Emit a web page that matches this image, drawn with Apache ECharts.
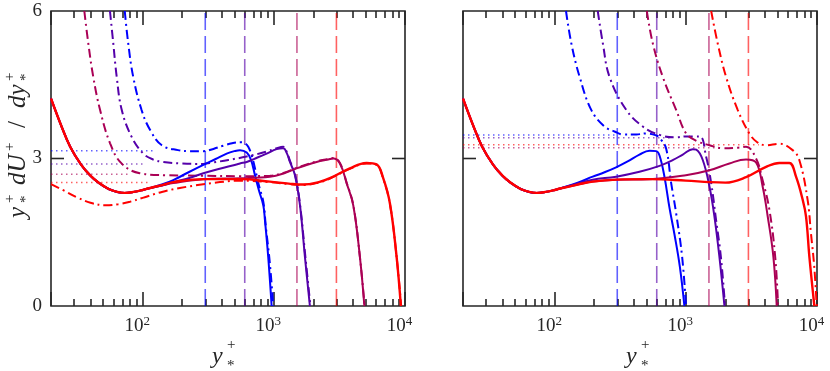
<!DOCTYPE html>
<html><head><meta charset="utf-8">
<script src="https://cdn.jsdelivr.net/npm/echarts@6/dist/echarts.min.js"></script>
<style>html,body{margin:0;padding:0;background:#fff}#c{width:830px;height:371px}</style>
</head><body><div id="c"></div>
<script>
// ---------- axis / tick data ----------
const xMin = 20, xMax = 10000, yMin = 0, yMax = 6;
const minorPerDecade = 9;
const yTickLabels = [0, 3, 6];
const yInnerTicks = [3];
const seriesColors = ['#0000ff', '#5500aa', '#aa0055', '#ff0000'];
const refColors = ['rgba(0,0,255,0.62)', 'rgba(85,0,170,0.62)', 'rgba(170,0,85,0.62)', 'rgba(255,0,0,0.62)'];
const verticalRefX = [300, 600, 1500, 3000];

// ---------- shared near-wall part of the solid curves ----------
const wallPart = [[20,4.22],[24,3.66],[28,3.24],[34,2.87],[40,2.65],[46,2.51],[55,2.38],[64,2.32],[73,2.30],[85,2.32],[100,2.36],[110,2.39]];

// ---------- left panel ----------
const aBlueSolid = wallPart.concat([[140,2.47],[171,2.56],[220,2.71],[290,2.87],[360,2.99],[437,3.10],[500,3.15],[552,3.17],[621,3.12],[670,2.97],[718,2.66],[770,2.35],[831,2.05],[855,1.75],[906,1.0],[962,0]]);
const aBlueDash = [[73,6.0],[77.6,5.34],[84.7,4.66],[98,3.99],[114,3.58],[140,3.27],[186,3.17],[230,3.15],[290,3.15],[350,3.20],[411,3.26],[480,3.31],[560,3.33],[600,3.31],[638,3.24],[680,3.05],[718,2.80],[770,2.45],[831,2.12],[870,1.6],[930,0.9],[990,0]];
const aPurpleSolid = wallPart.concat([[140,2.45],[171,2.52],[230,2.61],[290,2.70],[400,2.80],[552,2.90],[621,2.93],[750,3.02],[881,3.10],[1050,3.19],[1180,3.21],[1260,3.10],[1327,2.93],[1449,2.66],[1582,2.05],[1726,1.0],[1883,0]]);
const aPurpleDash = [[56.3,6.0],[59.7,5.34],[63.4,4.66],[69.2,3.99],[82.4,3.44],[101,3.10],[120,2.98],[143,2.93],[192,2.90],[290,2.89],[345,2.92],[450,2.97],[621,3.04],[881,3.14],[1050,3.21],[1180,3.24],[1260,3.12],[1327,2.95],[1449,2.68],[1582,2.07],[1740,1.0],[1900,0]];
const aMagentaSolid = wallPart.concat([[140,2.45],[171,2.50],[290,2.58],[552,2.60],[933,2.63],[1200,2.70],[1492,2.80],[2118,2.93],[2600,2.98],[2837,3.00],[3190,2.90],[3587,2.50],[4030,2.05],[4530,1.0],[4900,0]]);
const aMagentaDash = [[35.9,6.0],[38.5,5.34],[42,4.66],[47.3,3.99],[56.4,3.31],[69,2.90],[95,2.70],[150,2.66],[290,2.65],[552,2.64],[933,2.65],[1200,2.71],[1492,2.81],[2118,2.94],[2600,2.99],[2837,3.01],[3190,2.91],[3587,2.51],[4030,2.06],[4530,1.0],[4920,0]];
const aRedSolid = wallPart.concat([[140,2.46],[171,2.52],[290,2.58],[552,2.58],[933,2.53],[1300,2.49],[1675,2.47],[2200,2.52],[2677,2.60],[3800,2.80],[5090,2.91],[6070,2.88],[6820,2.60],[7670,2.09],[8630,1.0],[9300,0]]);
const aRedDash = [[20,2.48],[25,2.35],[31,2.22],[40,2.10],[52,2.05],[65,2.07],[80,2.12],[100,2.20],[140,2.32],[192,2.40],[280,2.47],[388,2.52],[552,2.55],[933,2.52],[1300,2.48],[1675,2.46],[2200,2.51],[2677,2.59],[3800,2.79],[5090,2.90],[6070,2.87],[6820,2.59],[7670,2.08],[8630,1.0],[9350,0]];
const aLogLawLevels = [3.16, 2.89, 2.68, 2.51];
const aLogLawEnd = [120, 100, 80, 115];

// ---------- right panel ----------
const bBlueSolid = wallPart.concat([[150,2.51],[195,2.63],[240,2.72],[294,2.82],[360,2.94],[443,3.08],[528,3.16],[594,3.15],[630,3.06],[687,2.63],[750,2.0],[820,1.45],[900,0.8],[975,0]]);
const bBlueDash = [[122,6.0],[134,5.34],[155,4.66],[190,3.99],[240,3.65],[286,3.55],[331,3.49],[420,3.49],[499,3.51],[594,3.47],[640,3.40],[708,3.20],[773,2.50],[843,1.89],[937,1.0],[1003,0]];
const bPurpleSolid = wallPart.concat([[150,2.49],[195,2.57],[294,2.63],[443,2.73],[630,2.85],[800,2.97],[948,3.08],[1130,3.19],[1200,3.18],[1346,2.97],[1514,2.43],[1652,1.82],[1803,1.0],[1970,0]]);
const bPurpleDash = [[213,6.0],[233,5.34],[262,4.66],[351,3.99],[470,3.65],[630,3.48],[843,3.43],[1000,3.45],[1270,3.45],[1426,3.04],[1560,2.50],[1700,1.75],[1850,1.0],[1990,0]];
const bMagentaSolid = wallPart.concat([[150,2.47],[195,2.53],[294,2.57],[528,2.58],[1000,2.66],[1514,2.76],[2149,2.90],[2877,2.98],[3430,2.92],[3850,2.43],[4210,1.82],[4650,1.0],[4930,0]]);
const bMagentaDash = [[504,6.0],[560,5.34],[667,4.66],[843,3.99],[1005,3.51],[1200,3.36],[1514,3.27],[1910,3.21],[2500,3.22],[2877,3.24],[3430,3.00],[3850,2.56],[4340,1.95],[4800,1.0],[5050,0]];
const bRedSolid = wallPart.concat([[150,2.47],[195,2.53],[294,2.57],[528,2.58],[1000,2.55],[1514,2.52],[2000,2.51],[2877,2.62],[4090,2.83],[5160,2.91],[6150,2.91],[6920,2.63],[7780,2.16],[8250,1.82],[8750,1.0],[9550,0]]);
const bRedDash = [[1560,6.0],[1750,5.34],[2027,4.66],[2485,3.99],[3050,3.51],[3500,3.33],[4090,3.27],[5160,3.30],[6520,3.17],[7330,2.97],[8480,2.16],[8990,1.48],[9530,0.8],[9950,0]];
const bLogLawLevels = [3.48, 3.42, 3.22, 3.28];
const bLogLawEnd = [290, 760, 1700, 3600];

// ---------- build ----------
const frameColor = '#262626';
const serifFont = '"Liberation Serif", "DejaVu Serif", serif';
const panels = [
  {solid: [aBlueSolid, aPurpleSolid, aMagentaSolid, aRedSolid], dash: [aBlueDash, aPurpleDash, aMagentaDash, aRedDash], lvl: aLogLawLevels, lvlEnd: aLogLawEnd},
  {solid: [bBlueSolid, bPurpleSolid, bMagentaSolid, bRedSolid], dash: [bBlueDash, bPurpleDash, bMagentaDash, bRedDash], lvl: bLogLawLevels, lvlEnd: bLogLawEnd}
];
const gridLefts = [51, 463];

const grid = gridLefts.map(l => ({left: l, top: 11, width: 354, height: 295, show: true, borderColor: frameColor, borderWidth: 1.6, backgroundColor: 'transparent', containLabel: false}));

const tickCfg = {show: true, inside: true, length: 14, lineStyle: {color: frameColor, width: 1.6}};
const minorCfg = {show: true, splitNumber: minorPerDecade, length: 7, lineStyle: {color: frameColor, width: 1.6}};

const xAxis = gridLefts.map((l, gi) => ({
  type: 'log', logBase: 10, gridIndex: gi, min: xMin, max: xMax, position: 'bottom',
  axisLine: {show: false}, axisTick: tickCfg, minorTick: minorCfg, splitLine: {show: false}, minorSplitLine: {show: false},
  axisLabel: {
    show: true, margin: 9, showMinLabel: true, showMaxLabel: true,
    padding: [0, 11, 0, 0],
    formatter: v => {
      const e = Math.round(Math.log10(v));
      return Math.abs(Math.pow(10, e) - v) < 1e-6 * v ? '{b|10}{s|' + e + '}' : '';
    },
    rich: {
      b: {fontFamily: serifFont, fontSize: 19, color: frameColor},
      s: {fontFamily: serifFont, fontSize: 13, color: frameColor, verticalAlign: 'top', padding: [0, 0, 9, 0]}
    }
  }
})).concat(gridLefts.map((l, gi) => ({
  type: 'log', logBase: 10, gridIndex: gi, min: xMin, max: xMax, position: 'top',
  axisLine: {show: false}, axisTick: tickCfg, minorTick: minorCfg, splitLine: {show: false}, minorSplitLine: {show: false},
  axisLabel: {show: false}
})));

const yAxis = gridLefts.map((l, gi) => ({
  type: 'value', gridIndex: gi, min: yMin, max: yMax, interval: 3,
  axisLine: {show: false}, axisTick: {show: false}, splitLine: {show: false},
  axisLabel: {show: gi === 0, margin: 9, fontFamily: serifFont, fontSize: 19, color: frameColor,
    formatter: v => (yTickLabels.indexOf(v) >= 0 ? String(v) : '')}
}));

const series = [];
panels.forEach((p, gi) => {
  verticalRefX.forEach((xv, i) => {
    series.push({type: 'line', xAxisIndex: gi, yAxisIndex: gi, data: [[xv, yMin], [xv, yMax]], symbol: 'none', silent: true, z: 2,
      lineStyle: {color: refColors[i], width: 1.6, type: [17, 6]}});
  });
  p.lvl.forEach((lv, i) => {
    series.push({type: 'line', xAxisIndex: gi, yAxisIndex: gi, data: [[xMin, lv], [p.lvlEnd[i], lv]], symbol: 'none', silent: true, z: 2,
      lineStyle: {color: refColors[i], width: 1.5, type: [1.5, 3.5]}});
  });
  p.dash.forEach((d, i) => {
    series.push({type: 'line', xAxisIndex: gi, yAxisIndex: gi, data: d, symbol: 'none', smooth: 0.4, silent: true, z: 3,
      lineStyle: {color: seriesColors[i], width: 2, type: [9, 4, 2, 4]}});
  });
  p.solid.forEach((d, i) => {
    series.push({type: 'line', xAxisIndex: gi, yAxisIndex: gi, data: d, symbol: 'none', smooth: 0.4, silent: true, z: 4,
      lineStyle: {color: seriesColors[i], width: i === 3 ? 2.4 : 2}});
  });
});

const chart = echarts.init(document.getElementById('c'), null, {renderer: 'canvas'});
chart.setOption({
  animation: false,
  grid: grid, xAxis: xAxis, yAxis: yAxis, series: series
});

// ---------- y ticks at 3 (left and right, inward) ----------
const graphics = [];
let gid = 0;
function tickRect(x, y, w, h) {
  return {id: 'g' + (gid++), type: 'rect', silent: true, z: 100, shape: {x: x, y: y, width: w, height: h}, style: {fill: frameColor}};
}
[0, 1].forEach(gi => {
  const finder = {xAxisIndex: gi, yAxisIndex: gi};
  yInnerTicks.forEach(v => {
    const l = chart.convertToPixel(finder, [xMin, v]);
    const r = chart.convertToPixel(finder, [xMax, v]);
    graphics.push(tickRect(l[0], l[1] - 0.8, 13, 1.6));
    graphics.push(tickRect(r[0] - 13, r[1] - 0.8, 13, 1.6));
  });
});

// ---------- axis titles ----------
function txt(t, x, y, size, italic, rot) {
  return {id: 'g' + (gid++), type: 'text', x: x, y: y, rotation: rot || 0, z: 100, silent: true,
    style: {text: t, font: (italic ? 'italic ' : '') + size + 'px ' + serifFont,
    fill: frameColor, textAlign: 'left', textVerticalAlign: 'middle', align: 'left', verticalAlign: 'middle'}};
}
[212, 626].forEach(x0 => {
  graphics.push(txt('y', x0, 357, 24, true));
  graphics.push(txt('+', x0 + 15, 345, 15, false));
  graphics.push(txt('*', x0 + 15, 366, 15, false));
});
const yBase = 218, R = Math.PI / 2;
[['y', 0, 18, 25, true], ['+', 15, 10, 15, false], ['*', 15, 26, 15, false],
 ['dU', 33, 18, 25, true], ['+', 67, 10, 15, false],
 ['/', 90, 18, 25, false],
 ['dy', 110, 18, 25, true], ['+', 137, 10, 15, false], ['*', 137, 26, 15, false]
].forEach(([t, u, v, s, it]) => graphics.push(txt(t, v, yBase - u, s, it, R)));

chart.setOption({graphic: {elements: graphics}});
</script></body></html>
